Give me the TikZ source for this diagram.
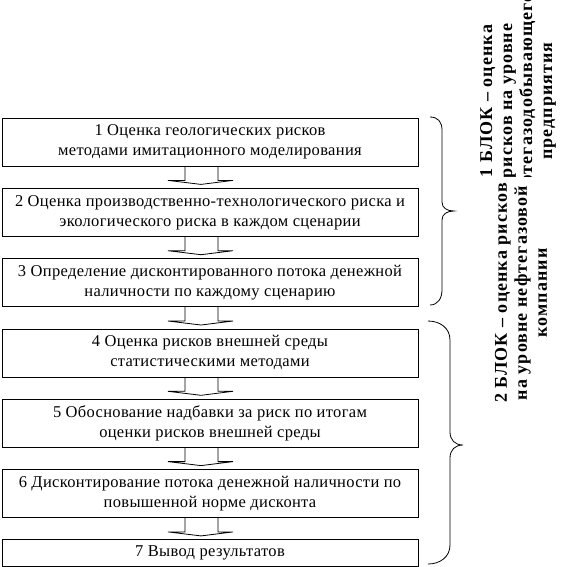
\documentclass[tikz,border=0pt]{standalone}
\usepackage{fontspec}
\setmainfont{Liberation Serif}
\newfontfamily\boxfont{Liberation Serif}[LetterSpace=2]
\newfontfamily\blockfont{Liberation Serif}[LetterSpace=6]
\usepackage{tikz}
\usetikzlibrary{positioning, calc}

% hollow block arrow between two boxes
\newcommand{\flowarrow}[2]{%
  \draw[line width=0.8pt] ($(#1.south)+(-25,0)$) -- ($(#1.south)+(-25,14)$) -- ++(-17,0)
    -- ($(#1.south)+(-9,18)$) -- ($(#1.south)+(23,14)$) -- ++(-15,0)
    -- ($(#1.south)+(8,0)$);}

\begin{document}
\begin{tikzpicture}[
    x=1pt, y=-1pt,
    node distance=21.5pt,
    box/.style={rectangle, draw, line width=0.8pt, minimum width=416pt,
                minimum height=48pt, align=center, inner sep=2pt,
                font=\boxfont\fontsize{16.5}{20}\selectfont},
    blocktext/.style={rotate=90, align=center, inner sep=0pt,
                font=\blockfont\fontsize{18}{20}\selectfont\bfseries},
    brace/.style={line width=0.8pt},
]
\useasboundingbox (0,0) rectangle (578,566);

% Steps
\node[box] (s1) at (210,142) {1 Оценка геологических рисков\\методами имитационного моделирования};
\node[box, below=of s1] (s2) {2 Оценка производственно-технологического риска и\\экологического риска в каждом сценарии};
\node[box, below=of s2] (s3) {3 Определение дисконтированного потока денежной\\наличности по каждому сценарию};
\node[box, below=of s3] (s4) {4 Оценка рисков внешней среды\\статистическими методами};
\node[box, below=of s4] (s5) {5 Обоснование надбавки за риск по итогам\\оценки рисков внешней среды};
\node[box, below=of s5] (s6) {6 Дисконтирование потока денежной наличности по\\повышенной норме дисконта};
\node[box, below=of s6, minimum height=27pt] (s7) {7 Вывод результатов};

% Arrows
\flowarrow{s1}{s2}
\flowarrow{s2}{s3}
\flowarrow{s3}{s4}
\flowarrow{s4}{s5}
\flowarrow{s5}{s6}
\flowarrow{s6}{s7}

% Braces
\draw[brace] (430,117) .. controls (438,117) and (442,122) .. (442,130) -- (442,202)
  .. controls (442,208) and (447,211) .. (454,211) .. controls (447,211) and (442,214) .. (442,220)
  -- (442,290) .. controls (442,298) and (438,305) .. (430,305);
\draw[brace] (428,321) .. controls (440,321) and (450,328) .. (450,340) -- (450,432)
  .. controls (450,440) and (455,445) .. (463,445) .. controls (455,445) and (450,450) .. (450,458)
  -- (450,545) .. controls (450,557) and (440,564) .. (428,564);

% Block labels (second one is opaque and hides the foot of the first)
\node[blocktext] (b1) at (518,101) {1 БЛОК – оценка\\рисков на уровне\\нефтегазодобывающего\\предприятия};
\node[blocktext, fill=white, minimum width=232pt, minimum height=66pt] (b2) at (521,293)
  {2 БЛОК – оценка рисков\\на уровне нефтегазовой\\компании};

\end{tikzpicture}
\end{document}
